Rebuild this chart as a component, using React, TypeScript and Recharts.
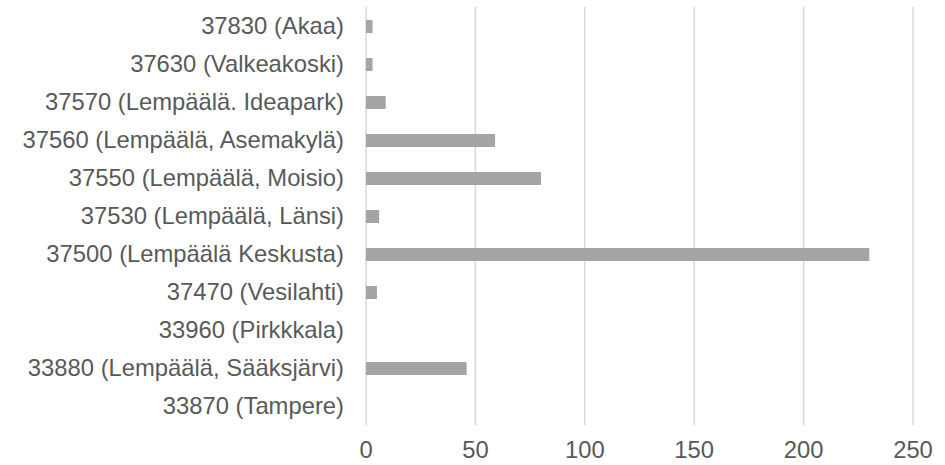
import { Bar, BarChart, CartesianGrid, XAxis, YAxis } from "recharts";

const categories = [
  "37830 (Akaa)",
  "37630 (Valkeakoski)",
  "37570 (Lempäälä. Ideapark)",
  "37560 (Lempäälä, Asemakylä)",
  "37550 (Lempäälä, Moisio)",
  "37530 (Lempäälä, Länsi)",
  "37500 (Lempäälä Keskusta)",
  "37470 (Vesilahti)",
  "33960 (Pirkkkala)",
  "33880 (Lempäälä, Sääksjärvi)",
  "33870 (Tampere)",
];

const counts = [3, 3, 9, 59, 80, 6, 230, 5, 0, 46, 0];

const xTicks = [0, 50, 100, 150, 200, 250];

const chartData = categories.map((name, i) => ({ name, value: counts[i] }));

const tickStyle = { fill: "#595959", fontSize: 23.8, fontFamily: "'Liberation Sans', Arial, sans-serif" };

const App = () => {
  return (
    <div style={{ position: "fixed", left: 0, top: 0, width: 945, height: 465, background: "#fff" }}>
      <BarChart
        width={945}
        height={465}
        data={chartData}
        layout="vertical"
        margin={{ top: 7, right: 32, left: 0, bottom: 0 }}
        barCategoryGap={0}
      >
        <CartesianGrid horizontal={false} stroke="#d9d9d9" strokeWidth={1.5} />
        <XAxis
          type="number"
          domain={[0, 250]}
          ticks={xTicks}
          axisLine={false}
          tickLine={false}
          tickSize={0}
          tickMargin={16}
          height={40}
          tick={tickStyle}
          interval={0}
        />
        <YAxis
          type="category"
          dataKey="name"
          width={366}
          axisLine={false}
          tickLine={false}
          tickSize={0}
          tickMargin={22}
          tick={tickStyle}
          interval={0}
        />
        <Bar dataKey="value" fill="#a5a5a5" barSize={13} isAnimationActive={false} />
      </BarChart>
    </div>
  );
};

export default App;
